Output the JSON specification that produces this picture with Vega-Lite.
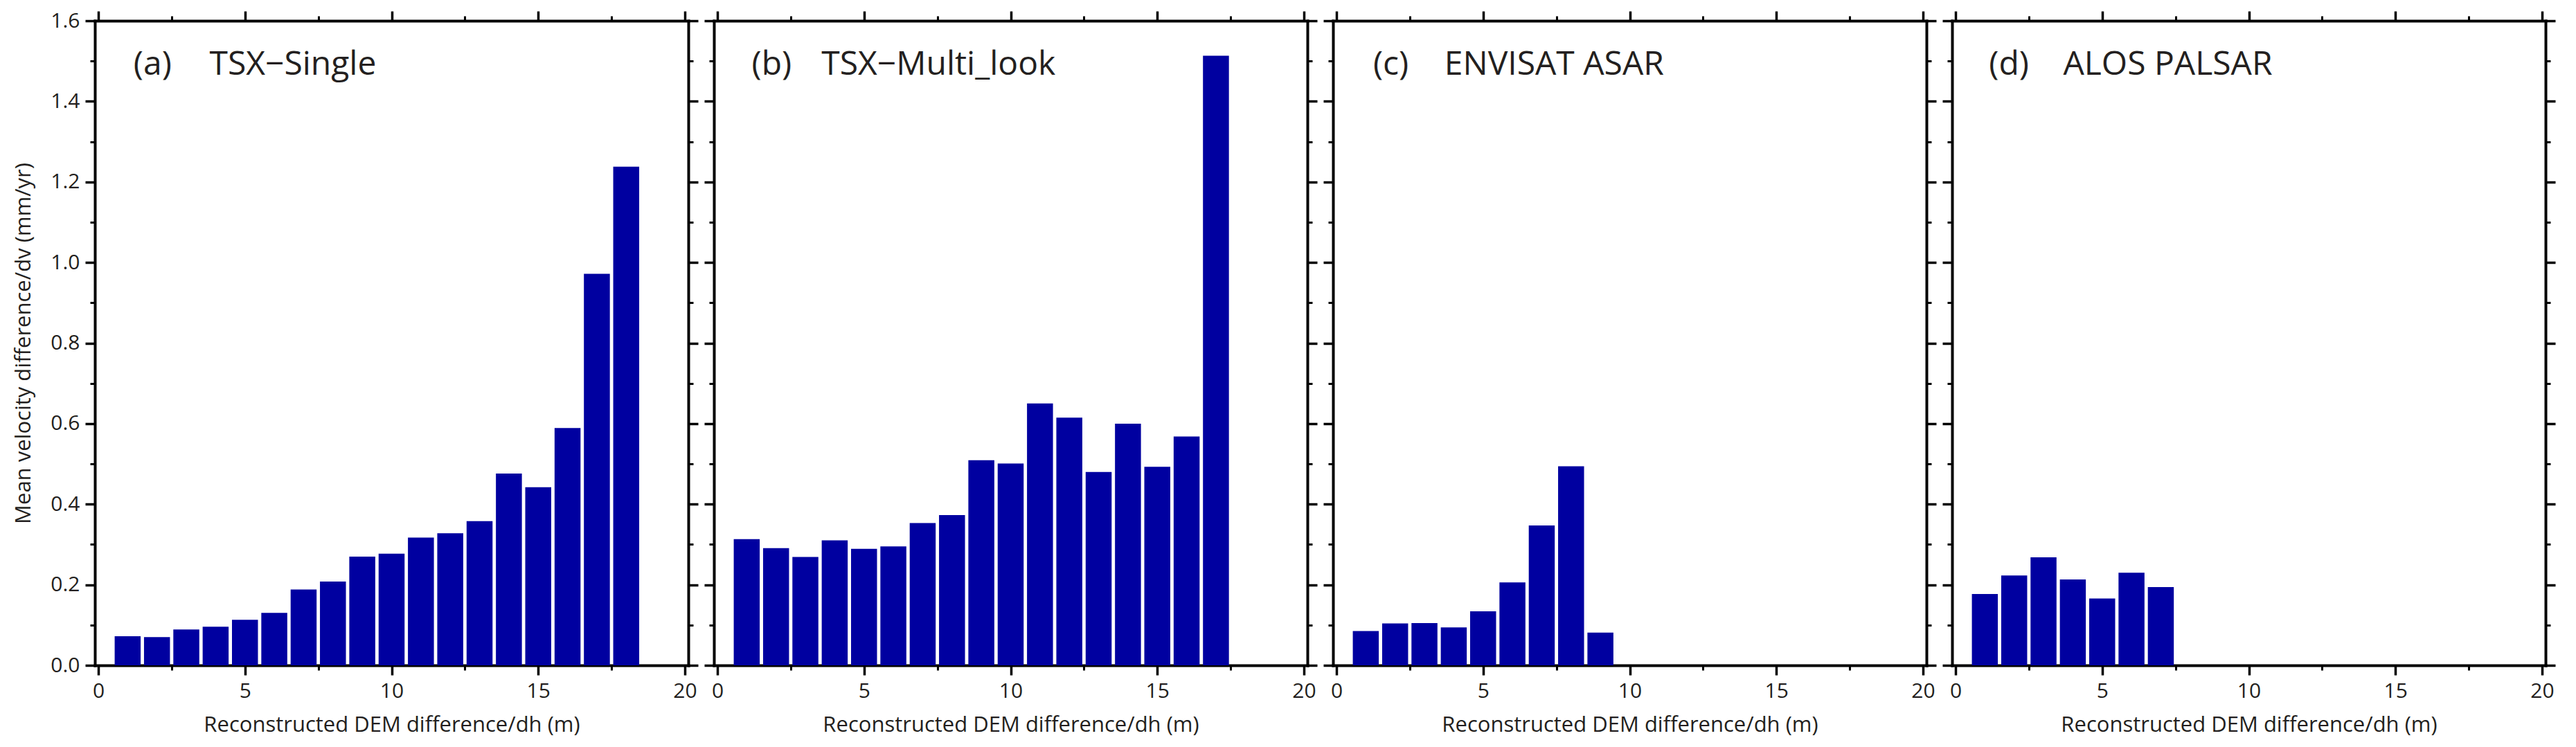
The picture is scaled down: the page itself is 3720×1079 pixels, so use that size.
{
  "$schema": "https://vega.github.io/schema/vega-lite/v6.json",
  "padding": {"left": 18, "top": 14, "right": 0, "bottom": 6},
  "spacing": 37,
  "bounds": "flush",
  "background": "white",
  "datasets": {
    "a": [
      {"dh": 1, "dv": 0.072}, {"dh": 2, "dv": 0.070}, {"dh": 3, "dv": 0.089}, {"dh": 4, "dv": 0.096},
      {"dh": 5, "dv": 0.113}, {"dh": 6, "dv": 0.130}, {"dh": 7, "dv": 0.188}, {"dh": 8, "dv": 0.208},
      {"dh": 9, "dv": 0.270}, {"dh": 10, "dv": 0.277}, {"dh": 11, "dv": 0.317}, {"dh": 12, "dv": 0.328},
      {"dh": 13, "dv": 0.358}, {"dh": 14, "dv": 0.476}, {"dh": 15, "dv": 0.442}, {"dh": 16, "dv": 0.589},
      {"dh": 17, "dv": 0.972}, {"dh": 18, "dv": 1.238}
    ],
    "b": [
      {"dh": 1, "dv": 0.313}, {"dh": 2, "dv": 0.291}, {"dh": 3, "dv": 0.269}, {"dh": 4, "dv": 0.310},
      {"dh": 5, "dv": 0.289}, {"dh": 6, "dv": 0.295}, {"dh": 7, "dv": 0.353}, {"dh": 8, "dv": 0.373},
      {"dh": 9, "dv": 0.509}, {"dh": 10, "dv": 0.501}, {"dh": 11, "dv": 0.650}, {"dh": 12, "dv": 0.615},
      {"dh": 13, "dv": 0.480}, {"dh": 14, "dv": 0.600}, {"dh": 15, "dv": 0.493}, {"dh": 16, "dv": 0.568},
      {"dh": 17, "dv": 1.513}
    ],
    "c": [
      {"dh": 1, "dv": 0.085}, {"dh": 2, "dv": 0.104}, {"dh": 3, "dv": 0.105}, {"dh": 4, "dv": 0.094},
      {"dh": 5, "dv": 0.134}, {"dh": 6, "dv": 0.206}, {"dh": 7, "dv": 0.347}, {"dh": 8, "dv": 0.494},
      {"dh": 9, "dv": 0.081}
    ],
    "d": [
      {"dh": 1, "dv": 0.177}, {"dh": 2, "dv": 0.223}, {"dh": 3, "dv": 0.268}, {"dh": 4, "dv": 0.213},
      {"dh": 5, "dv": 0.166}, {"dh": 6, "dv": 0.230}, {"dh": 7, "dv": 0.194}
    ],
    "one": [{}]
  },
  "hconcat": [
    {
      "width": 857, "height": 931,
      "resolve": {"axis": {"x": "independent", "y": "independent"}},
      "layer": [
        {
          "data": {"name": "a"},
          "mark": {"type": "bar", "color": "#0000A0", "width": 37.5},
          "encoding": {
            "x": {"field": "dh", "type": "quantitative", "scale": {"domain": [0, 20], "nice": false, "zero": false},
                  "axis": {"orient": "bottom", "values": [0, 5, 10, 15, 20], "title": "Reconstructed DEM difference/dh (m)", "titlePadding": 19}},
            "y": {"field": "dv", "type": "quantitative", "scale": {"domain": [0, 1.6], "nice": false},
                  "axis": {"orient": "left", "values": [0, 0.2, 0.4, 0.6, 0.8, 1.0, 1.2, 1.4, 1.6], "format": ".1f", "title": "Mean velocity difference/dv (mm/yr)", "titlePadding": 22}}
          }
        },
        {
          "data": {"name": "one"},
          "mark": {"type": "point", "opacity": 0},
          "encoding": {
            "x": {"datum": 0, "type": "quantitative", "axis": {"orient": "top", "values": [0, 5, 10, 15, 20], "labels": false, "title": null}},
            "y": {"datum": 0, "type": "quantitative", "axis": {"orient": "right", "values": [0, 0.2, 0.4, 0.6, 0.8, 1.0, 1.2, 1.4, 1.6], "labels": false, "title": null}}
          }
        },
        {
          "data": {"name": "one"},
          "mark": {"type": "point", "opacity": 0},
          "encoding": {
            "x": {"datum": 0, "type": "quantitative", "axis": {"orient": "bottom", "values": [2.5, 7.5, 12.5, 17.5], "labels": false, "title": null, "domain": false, "tickSize": 7, "tickWidth": 3}},
            "y": {"datum": 0, "type": "quantitative", "axis": {"orient": "left", "values": [0.1, 0.3, 0.5, 0.7, 0.9, 1.1, 1.3, 1.5], "labels": false, "title": null, "domain": false, "tickSize": 7, "tickWidth": 3}}
          }
        },
        {
          "data": {"name": "one"},
          "mark": {"type": "point", "opacity": 0},
          "encoding": {
            "x": {"datum": 0, "type": "quantitative", "axis": {"orient": "top", "values": [2.5, 7.5, 12.5, 17.5], "labels": false, "title": null, "domain": false, "tickSize": 7, "tickWidth": 3}},
            "y": {"datum": 0, "type": "quantitative", "axis": {"orient": "right", "values": [0.1, 0.3, 0.5, 0.7, 0.9, 1.1, 1.3, 1.5], "labels": false, "title": null, "domain": false, "tickSize": 7, "tickWidth": 3}}
          }
        },
        {
          "data": {"name": "one"},
          "mark": {"type": "text", "text": "(a)", "align": "left", "baseline": "alphabetic", "fontSize": 48, "color": "#231f20"},
          "encoding": {"x": {"datum": 1.2, "type": "quantitative", "axis": null}, "y": {"datum": 1.466, "type": "quantitative", "axis": null}}
        },
        {
          "data": {"name": "one"},
          "mark": {"type": "text", "text": "TSX−Single", "align": "left", "baseline": "alphabetic", "fontSize": 48, "color": "#231f20"},
          "encoding": {"x": {"datum": 3.79, "type": "quantitative", "axis": null}, "y": {"datum": 1.466, "type": "quantitative", "axis": null}}
        }
      ]
    },
    {
      "width": 857, "height": 931,
      "resolve": {"axis": {"x": "independent", "y": "independent"}},
      "layer": [
        {
          "data": {"name": "b"},
          "mark": {"type": "bar", "color": "#0000A0", "width": 37.5},
          "encoding": {
            "x": {"field": "dh", "type": "quantitative", "scale": {"domain": [0, 20], "nice": false, "zero": false},
                  "axis": {"orient": "bottom", "values": [0, 5, 10, 15, 20], "title": "Reconstructed DEM difference/dh (m)", "titlePadding": 19}},
            "y": {"field": "dv", "type": "quantitative", "scale": {"domain": [0, 1.6], "nice": false},
                  "axis": {"orient": "left", "values": [0, 0.2, 0.4, 0.6, 0.8, 1.0, 1.2, 1.4, 1.6], "labels": false, "title": null}}
          }
        },
        {
          "data": {"name": "one"},
          "mark": {"type": "point", "opacity": 0},
          "encoding": {
            "x": {"datum": 0, "type": "quantitative", "axis": {"orient": "top", "values": [0, 5, 10, 15, 20], "labels": false, "title": null}},
            "y": {"datum": 0, "type": "quantitative", "axis": {"orient": "right", "values": [0, 0.2, 0.4, 0.6, 0.8, 1.0, 1.2, 1.4, 1.6], "labels": false, "title": null}}
          }
        },
        {
          "data": {"name": "one"},
          "mark": {"type": "point", "opacity": 0},
          "encoding": {
            "x": {"datum": 0, "type": "quantitative", "axis": {"orient": "bottom", "values": [2.5, 7.5, 12.5, 17.5], "labels": false, "title": null, "domain": false, "tickSize": 7, "tickWidth": 3}},
            "y": {"datum": 0, "type": "quantitative", "axis": {"orient": "left", "values": [0.1, 0.3, 0.5, 0.7, 0.9, 1.1, 1.3, 1.5], "labels": false, "title": null, "domain": false, "tickSize": 7, "tickWidth": 3}}
          }
        },
        {
          "data": {"name": "one"},
          "mark": {"type": "point", "opacity": 0},
          "encoding": {
            "x": {"datum": 0, "type": "quantitative", "axis": {"orient": "top", "values": [2.5, 7.5, 12.5, 17.5], "labels": false, "title": null, "domain": false, "tickSize": 7, "tickWidth": 3}},
            "y": {"datum": 0, "type": "quantitative", "axis": {"orient": "right", "values": [0.1, 0.3, 0.5, 0.7, 0.9, 1.1, 1.3, 1.5], "labels": false, "title": null, "domain": false, "tickSize": 7, "tickWidth": 3}}
          }
        },
        {
          "data": {"name": "one"},
          "mark": {"type": "text", "text": "(b)", "align": "left", "baseline": "alphabetic", "fontSize": 48, "color": "#231f20"},
          "encoding": {"x": {"datum": 1.17, "type": "quantitative", "axis": null}, "y": {"datum": 1.466, "type": "quantitative", "axis": null}}
        },
        {
          "data": {"name": "one"},
          "mark": {"type": "text", "text": "TSX−Multi_look", "align": "left", "baseline": "alphabetic", "fontSize": 48, "color": "#231f20"},
          "encoding": {"x": {"datum": 3.55, "type": "quantitative", "axis": null}, "y": {"datum": 1.466, "type": "quantitative", "axis": null}}
        }
      ]
    },
    {
      "width": 857, "height": 931,
      "resolve": {"axis": {"x": "independent", "y": "independent"}},
      "layer": [
        {
          "data": {"name": "c"},
          "mark": {"type": "bar", "color": "#0000A0", "width": 37.5},
          "encoding": {
            "x": {"field": "dh", "type": "quantitative", "scale": {"domain": [0, 20], "nice": false, "zero": false},
                  "axis": {"orient": "bottom", "values": [0, 5, 10, 15, 20], "title": "Reconstructed DEM difference/dh (m)", "titlePadding": 19}},
            "y": {"field": "dv", "type": "quantitative", "scale": {"domain": [0, 1.6], "nice": false},
                  "axis": {"orient": "left", "values": [0, 0.2, 0.4, 0.6, 0.8, 1.0, 1.2, 1.4, 1.6], "labels": false, "title": null}}
          }
        },
        {
          "data": {"name": "one"},
          "mark": {"type": "point", "opacity": 0},
          "encoding": {
            "x": {"datum": 0, "type": "quantitative", "axis": {"orient": "top", "values": [0, 5, 10, 15, 20], "labels": false, "title": null}},
            "y": {"datum": 0, "type": "quantitative", "axis": {"orient": "right", "values": [0, 0.2, 0.4, 0.6, 0.8, 1.0, 1.2, 1.4, 1.6], "labels": false, "title": null}}
          }
        },
        {
          "data": {"name": "one"},
          "mark": {"type": "point", "opacity": 0},
          "encoding": {
            "x": {"datum": 0, "type": "quantitative", "axis": {"orient": "bottom", "values": [2.5, 7.5, 12.5, 17.5], "labels": false, "title": null, "domain": false, "tickSize": 7, "tickWidth": 3}},
            "y": {"datum": 0, "type": "quantitative", "axis": {"orient": "left", "values": [0.1, 0.3, 0.5, 0.7, 0.9, 1.1, 1.3, 1.5], "labels": false, "title": null, "domain": false, "tickSize": 7, "tickWidth": 3}}
          }
        },
        {
          "data": {"name": "one"},
          "mark": {"type": "point", "opacity": 0},
          "encoding": {
            "x": {"datum": 0, "type": "quantitative", "axis": {"orient": "top", "values": [2.5, 7.5, 12.5, 17.5], "labels": false, "title": null, "domain": false, "tickSize": 7, "tickWidth": 3}},
            "y": {"datum": 0, "type": "quantitative", "axis": {"orient": "right", "values": [0.1, 0.3, 0.5, 0.7, 0.9, 1.1, 1.3, 1.5], "labels": false, "title": null, "domain": false, "tickSize": 7, "tickWidth": 3}}
          }
        },
        {
          "data": {"name": "one"},
          "mark": {"type": "text", "text": "(c)", "align": "left", "baseline": "alphabetic", "fontSize": 48, "color": "#231f20"},
          "encoding": {"x": {"datum": 1.25, "type": "quantitative", "axis": null}, "y": {"datum": 1.466, "type": "quantitative", "axis": null}}
        },
        {
          "data": {"name": "one"},
          "mark": {"type": "text", "text": "ENVISAT ASAR", "align": "left", "baseline": "alphabetic", "fontSize": 48, "color": "#231f20"},
          "encoding": {"x": {"datum": 3.68, "type": "quantitative", "axis": null}, "y": {"datum": 1.466, "type": "quantitative", "axis": null}}
        }
      ]
    },
    {
      "width": 857, "height": 931,
      "resolve": {"axis": {"x": "independent", "y": "independent"}},
      "layer": [
        {
          "data": {"name": "d"},
          "mark": {"type": "bar", "color": "#0000A0", "width": 37.5},
          "encoding": {
            "x": {"field": "dh", "type": "quantitative", "scale": {"domain": [0, 20], "nice": false, "zero": false},
                  "axis": {"orient": "bottom", "values": [0, 5, 10, 15, 20], "title": "Reconstructed DEM difference/dh (m)", "titlePadding": 19}},
            "y": {"field": "dv", "type": "quantitative", "scale": {"domain": [0, 1.6], "nice": false},
                  "axis": {"orient": "left", "values": [0, 0.2, 0.4, 0.6, 0.8, 1.0, 1.2, 1.4, 1.6], "labels": false, "title": null}}
          }
        },
        {
          "data": {"name": "one"},
          "mark": {"type": "point", "opacity": 0},
          "encoding": {
            "x": {"datum": 0, "type": "quantitative", "axis": {"orient": "top", "values": [0, 5, 10, 15, 20], "labels": false, "title": null}},
            "y": {"datum": 0, "type": "quantitative", "axis": {"orient": "right", "values": [0, 0.2, 0.4, 0.6, 0.8, 1.0, 1.2, 1.4, 1.6], "labels": false, "title": null}}
          }
        },
        {
          "data": {"name": "one"},
          "mark": {"type": "point", "opacity": 0},
          "encoding": {
            "x": {"datum": 0, "type": "quantitative", "axis": {"orient": "bottom", "values": [2.5, 7.5, 12.5, 17.5], "labels": false, "title": null, "domain": false, "tickSize": 7, "tickWidth": 3}},
            "y": {"datum": 0, "type": "quantitative", "axis": {"orient": "left", "values": [0.1, 0.3, 0.5, 0.7, 0.9, 1.1, 1.3, 1.5], "labels": false, "title": null, "domain": false, "tickSize": 7, "tickWidth": 3}}
          }
        },
        {
          "data": {"name": "one"},
          "mark": {"type": "point", "opacity": 0},
          "encoding": {
            "x": {"datum": 0, "type": "quantitative", "axis": {"orient": "top", "values": [2.5, 7.5, 12.5, 17.5], "labels": false, "title": null, "domain": false, "tickSize": 7, "tickWidth": 3}},
            "y": {"datum": 0, "type": "quantitative", "axis": {"orient": "right", "values": [0.1, 0.3, 0.5, 0.7, 0.9, 1.1, 1.3, 1.5], "labels": false, "title": null, "domain": false, "tickSize": 7, "tickWidth": 3}}
          }
        },
        {
          "data": {"name": "one"},
          "mark": {"type": "text", "text": "(d)", "align": "left", "baseline": "alphabetic", "fontSize": 48, "color": "#231f20"},
          "encoding": {"x": {"datum": 1.14, "type": "quantitative", "axis": null}, "y": {"datum": 1.466, "type": "quantitative", "axis": null}}
        },
        {
          "data": {"name": "one"},
          "mark": {"type": "text", "text": "ALOS PALSAR", "align": "left", "baseline": "alphabetic", "fontSize": 48, "color": "#231f20"},
          "encoding": {"x": {"datum": 3.67, "type": "quantitative", "axis": null}, "y": {"datum": 1.466, "type": "quantitative", "axis": null}}
        }
      ]
    }
  ],
  "config": {
    "view": {"stroke": null},
    "font": "Open Sans",
    "text": {"font": "Open Sans"},
    "axis": {
      "grid": false,
      "domainColor": "black", "domainWidth": 4, "domainCap": "square",
      "tickColor": "black", "tickWidth": 3.5, "tickSize": 14,
      "labelFont": "Open Sans", "labelFontSize": 30, "labelColor": "#231f20", "labelPadding": 8,
      "labelFlush": false, "labelOverlap": false, "labelBound": false,
      "titleFont": "Open Sans", "titleFontSize": 31, "titleFontWeight": "normal", "titleColor": "#231f20"
    }
  }
}
